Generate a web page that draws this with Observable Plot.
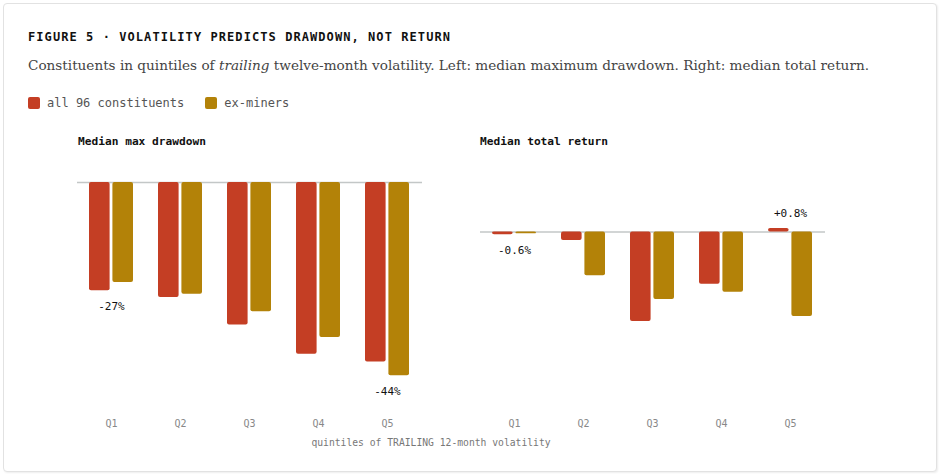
<!DOCTYPE html>
<html>
<head>
<meta charset="utf-8">
<script src="https://cdn.jsdelivr.net/npm/d3@7"></script>
<script src="https://cdn.jsdelivr.net/npm/@observablehq/plot@0.6"></script>
<style>
  html, body { margin: 0; padding: 0; background: #fff; }
  body { width: 941px; height: 475px; position: relative; overflow: hidden; }
  .card { position: absolute; left: 3px; top: 3px; width: 932px; height: 467px;
          border: 1px solid #e2e2e2; border-radius: 4px; box-shadow: 1px 1px 2px rgba(0,0,0,0.07); background: #fff; }
  .abs { position: absolute; white-space: nowrap; }
  .title { left: 28px; top: 30px; font: bold 12px "DejaVu Sans Mono", monospace; letter-spacing: 1.07px; color: #111; }
  .subtitle { left: 28px; top: 56.5px; font: 13.6px Georgia, "DejaVu Serif", serif; color: #444; }
  .legend { left: 28px; top: 96px; display: flex; align-items: center; font: 12px "DejaVu Sans Mono", monospace; color: #555; }
  .legend .sw { width: 12px; height: 12px; border-radius: 2px; margin-right: 7px; }
  .legend .item { display: flex; align-items: center; margin-right: 21px; }
  .ptitle { top: 135px; font: bold 11.2px "DejaVu Sans Mono", monospace; color: #111; }
  .charts { left: 28px; top: 160px; display: flex; }
  .xlabel { left: 28px; width: 806px; top: 437px; text-align: center; font: 9.7px "DejaVu Sans Mono", monospace; color: #777; }
</style>
</head>
<body>
<div class="card"></div>
<div class="abs title">FIGURE 5 · VOLATILITY PREDICTS DRAWDOWN, NOT RETURN</div>
<div class="abs subtitle">Constituents in quintiles of <i>trailing</i> twelve-month volatility. Left: median maximum drawdown. Right: median total return.</div>
<div class="abs legend" id="legend"></div>
<div class="abs ptitle" style="left:78px">Median max drawdown</div>
<div class="abs ptitle" style="left:480px">Median total return</div>
<div class="abs charts" id="charts"></div>
<div class="abs xlabel">quintiles of TRAILING 12-month volatility</div>
<script>
const quintiles = ["Q1", "Q2", "Q3", "Q4", "Q5"];
const seriesNames = ["all 96 constituents", "ex-miners"];
const seriesColors = ["#c43e24", "#b38208"];
const drawdownAll = [-26.7, -28.4, -35.2, -42.4, -44.3];
const drawdownEx = [-24.7, -27.6, -31.9, -38.3, -47.7];
const returnAll = [-0.6, -1.9, -19.9, -11.6, 0.8];
const returnEx = [-0.4, -9.7, -15.0, -13.4, -18.8];
const labelQuintiles = ["Q1", "Q5"];

// legend
const legend = document.getElementById("legend");
seriesNames.forEach((name, i) => {
  const item = document.createElement("div");
  item.className = "item";
  item.innerHTML = `<div class="sw" style="background:${seriesColors[i]}"></div><span>${name}</span>`;
  legend.appendChild(item);
});

function panel(allVals, exVals, domain, fmt) {
  const rows = quintiles.map((q, i) => ({q, all: allVals[i], ex: exVals[i]}));
  const labels = rows.filter(r => labelQuintiles.includes(r.q)).map(r => ({
    q: r.q,
    text: fmt(r.all),
    anchor: r.all >= 0 ? Math.max(r.all, r.ex, 0) : Math.min(r.all, r.ex),
    pos: r.all >= 0
  }));
  return Plot.plot({
    width: 403,
    height: 275,
    marginLeft: 49,
    marginRight: 9,
    marginTop: 22,
    marginBottom: 50.5,
    style: {fontFamily: "'DejaVu Sans Mono', monospace", fontSize: "10px", overflow: "visible", background: "transparent"},
    x: {domain: quintiles, paddingInner: 0.36, paddingOuter: 0.18, axis: null},
    y: {domain, axis: null},
    marks: [
      Plot.ruleY([0], {stroke: "#c3c7c7", strokeWidth: 1.5}),
      Plot.barY(rows, {x: "q", y1: 0, y2: "all", fill: seriesColors[0], insetRight: 23.4, rx: 2}),
      Plot.barY(rows, {x: "q", y1: 0, y2: "ex", fill: seriesColors[1], insetLeft: 23.4, rx: 2}),
      Plot.text(labels.filter(d => !d.pos), {x: "q", y: "anchor", text: "text", dy: 16, fill: "#111", fontSize: 11}),
      Plot.text(labels.filter(d => d.pos), {x: "q", y: "anchor", text: "text", dy: -14.5, fill: "#111", fontSize: 11}),
      Plot.axisX({tickSize: 0, tickPadding: 35, color: "#888", fontSize: 10, label: null})
    ]
  });
}

const charts = document.getElementById("charts");
charts.appendChild(panel(drawdownAll, drawdownEx, [-50, 0], v => `${Math.round(v)}%`));
charts.appendChild(panel(returnAll, returnEx, [-34, 11], v => `${v > 0 ? "+" : ""}${v.toFixed(1)}%`));
</script>
</body>
</html>
